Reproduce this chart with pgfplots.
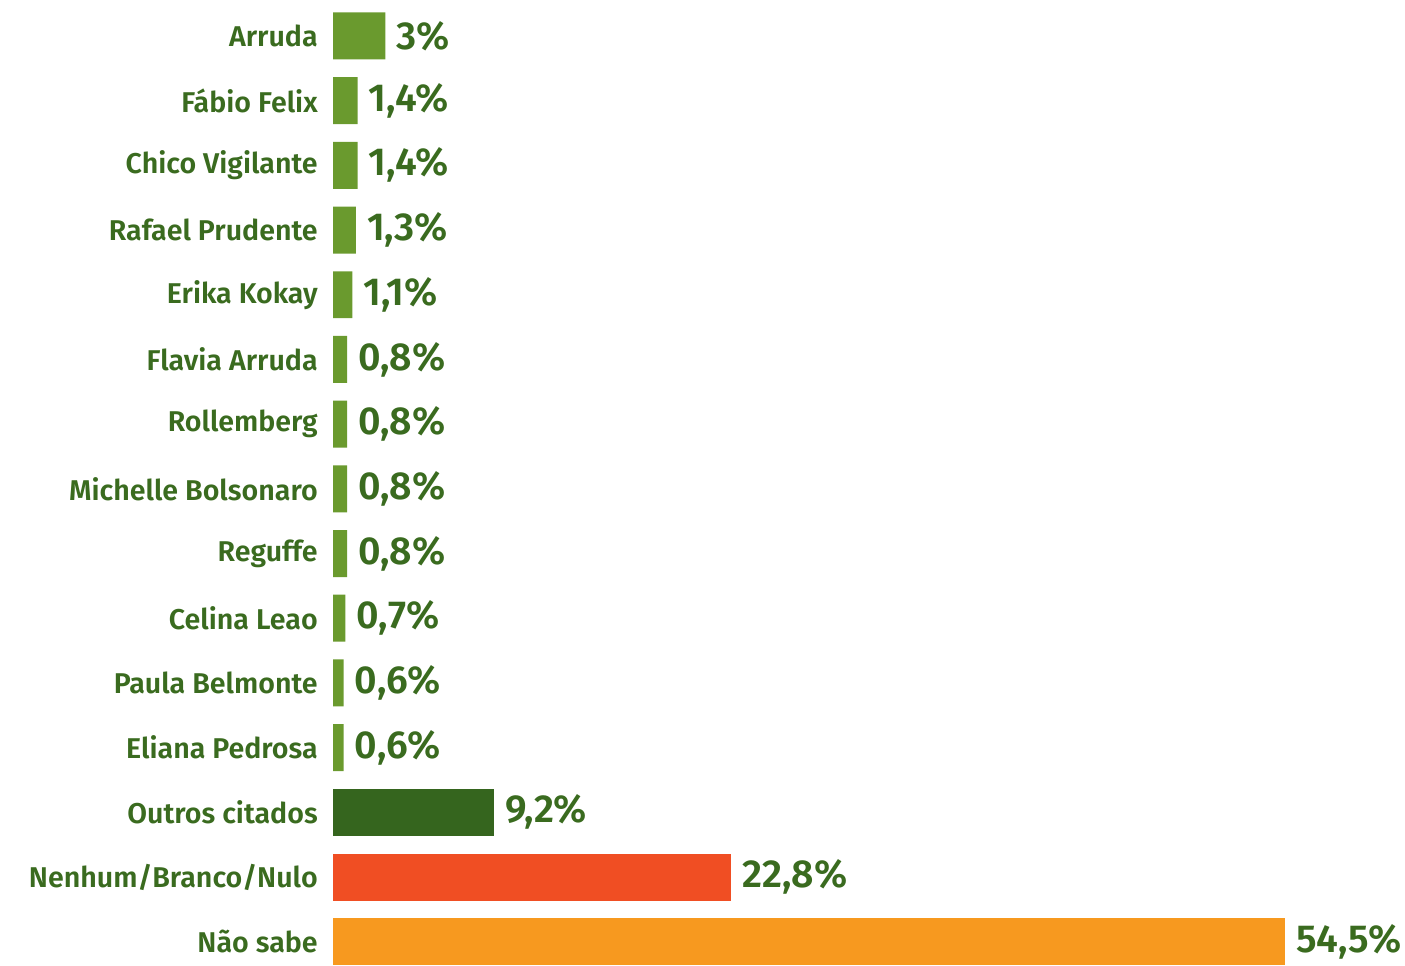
\documentclass[border=0pt]{standalone}
\usepackage{fontspec}
\setmainfont{Fira Sans}[BoldFont={Fira Sans SemiBold}]
\usepackage{pgfplots}
\pgfplotsset{compat=1.18}
\definecolor{lgreen}{HTML}{6A9A2E}
\definecolor{dgreen}{HTML}{35651E}
\definecolor{cred}{HTML}{F04E23}
\definecolor{corange}{HTML}{F7991F}
\definecolor{txt}{HTML}{3A6B1F}
\begin{document}
\begin{tikzpicture}
\begin{axis}[
  scale only axis,
  width=702.5pt, height=483pt,
  xmin=-19.063, xmax=61.37,
  ymin=-0.556, ymax=14.371,
  y dir=reverse,
  xbar, bar width=23.5pt, bar shift=0pt,
  axis line style={draw=none},
  xtick=\empty,
  ytick={0,...,14},
  major tick length=0pt,
  yticklabels={Arruda,Fábio Felix,Chico Vigilante,Rafael Prudente,Erika Kokay,Flavia Arruda,Rollemberg,Michelle Bolsonaro,Reguffe,Celina Leao,Paula Belmonte,Eliana Pedrosa,Outros citados,Nenhum/Branco/Nulo,Não sabe},
  yticklabel style={anchor=east, inner sep=0pt, xshift=159pt, font=\bfseries\fontsize{14.3pt}{16pt}\selectfont, text=txt},
  point meta=explicit symbolic,
  nodes near coords={\pgfplotspointmeta},
  nodes near coords align={horizontal},
  every node near coord/.append style={anchor=west, inner sep=0pt, xshift=5.5pt, font=\bfseries\fontsize{19.5pt}{22pt}\selectfont, text=txt},
  clip=false,
]
\addplot[fill=lgreen, draw=none] coordinates {
  (3,0) [3\%]
  (1.4,1) [1,4\%]
  (1.4,2) [1,4\%]
  (1.3,3) [1,3\%]
  (1.1,4) [1,1\%]
  (0.8,5) [0,8\%]
  (0.8,6) [0,8\%]
  (0.8,7) [0,8\%]
  (0.8,8) [0,8\%]
  (0.7,9) [0,7\%]
  (0.6,10) [0,6\%]
  (0.6,11) [0,6\%]
};
\addplot[fill=dgreen, draw=none] coordinates {(9.2,12) [9,2\%]};
\addplot[fill=cred, draw=none] coordinates {(22.8,13) [22,8\%]};
\addplot[fill=corange, draw=none] coordinates {(54.5,14) [54,5\%]};
\end{axis}
\end{tikzpicture}
\end{document}
